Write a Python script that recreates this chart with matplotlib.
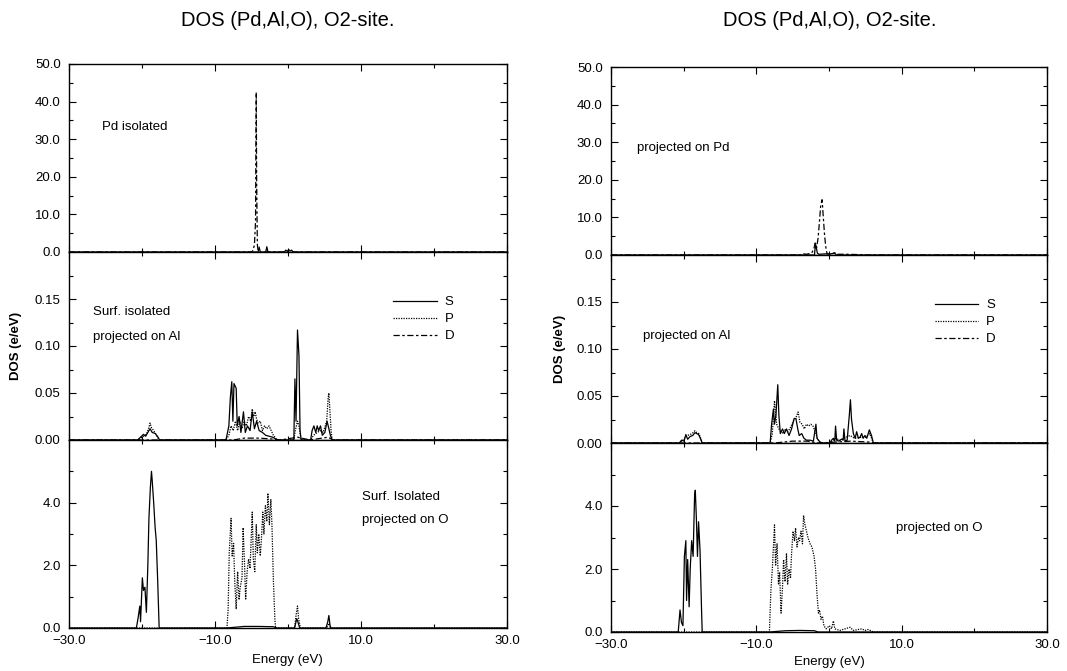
import numpy as np
import matplotlib
matplotlib.use("Agg")
import matplotlib.pyplot as plt
from matplotlib.ticker import FixedLocator, FuncFormatter


plt.rcParams["font.family"] = ["Liberation Sans", "DejaVu Sans"]


# ---------------- left figure: isolated systems ----------------

# Pd isolated (top)
pd_iso_e_d = [-30, -4.9, -4.6, -4.45, -4.35, -4.3, -4.2, -4.1, -3.9, 30]
pd_iso_d = [0, 0, 1.8, 8.0, 42.5, 20.0, 2.0, 0.3, 0, 0]
pd_iso_e_s = [-30, -4.1, -3.95, -3.8, -3.05, -2.9, -2.75, -0.5, -0.3, -0.1, 0.1, 0.3, 0.5, 0.7, 30]
pd_iso_s = [0, 0, 1.3, 0, 0, 1.4, 0, 0, 0.5, 0.2, 0.6, 0.3, 0.5, 0, 0]

# Surf. isolated projected on Al (middle)
al_iso_e_s = [-30, -20.6, -20.2, -19.8, -19.5, -19.2, -18.9, -18.6, -18.2, -17.8, -17.6,
              -8.5, -8.1, -7.9, -7.7, -7.55, -7.4, -7.1, -6.95, -6.7, -6.45, -6.1, -5.85,
              -5.55, -5.2, -4.9, -4.6, -4.3, -3.95, -3.5, -3.05, -2.6, -2.1, -1.45,
              0.8, 0.95, 1.1, 1.3, 1.5, 1.65, 1.8,
              3.1, 3.3, 3.55, 3.8, 4.0, 4.2, 4.45, 4.7, 5.05, 5.35, 5.6, 5.8, 6.05, 30]
al_iso_s = [0, 0, 0.003, 0.006, 0.004, 0.008, 0.012, 0.008, 0.007, 0.003, 0,
            0, 0.015, 0.045, 0.062, 0.02, 0.06, 0.055, 0.015, 0.025, 0.008, 0.03, 0.008,
            0.015, 0.01, 0.03, 0.012, 0.02, 0.01, 0.008, 0.005, 0.004, 0.003, 0,
            0, 0.065, 0.02, 0.117, 0.09, 0.01, 0,
            0, 0.01, 0.015, 0.008, 0.015, 0.01, 0.015, 0.005, 0.008, 0.02, 0.012, 0.005, 0, 0]
al_iso_e_p = [-30, -20.6, -20.2, -19.8, -19.4, -19.1, -18.9, -18.7, -18.4, -18.1, -17.8, -17.6,
              -8.5, -8.1, -7.8, -7.5, -7.2, -6.9, -6.6, -6.3, -6.0, -5.7, -5.4, -5.1, -4.9,
              -4.7, -4.5, -4.3, -4.1, -3.8, -3.5, -3.2, -2.9, -2.6, -2.3, -2.0, -1.6, -1.4,
              0.8, 1.0, 1.3, 1.5, 1.8,
              3.1, 3.5, 4.0, 4.4, 4.8, 5.1, 5.3, 5.5, 5.6, 5.75, 5.9, 6.05, 30]
al_iso_p = [0, 0, 0.002, 0.004, 0.006, 0.012, 0.018, 0.013, 0.01, 0.006, 0.002, 0,
            0, 0.005, 0.015, 0.01, 0.02, 0.01, 0.02, 0.012, 0.02, 0.015, 0.025, 0.02, 0.033,
            0.025, 0.03, 0.022, 0.018, 0.02, 0.01, 0.015, 0.012, 0.015, 0.01, 0.005, 0.001, 0,
            0, 0.01, 0.02, 0.015, 0,
            0, 0.005, 0.008, 0.01, 0.008, 0.015, 0.02, 0.045, 0.05, 0.03, 0.01, 0, 0]
al_iso_e_d = [-30, -7.5, -6.0, -4.0, -2.0, -1.0, 1.3, 3.0, 5.5, 6.2, 30]
al_iso_d = [0, 0, 0.002, 0.002, 0.001, 0, 0.003, 0, 0.003, 0, 0]

# Surf. isolated projected on O (bottom)
o_iso_e_s = [-30, -20.77, -20.55, -20.3, -20.2, -19.95, -19.8, -19.6, -19.4, -19.2, -19.05,
             -18.85, -18.7, -18.6, -18.4, -18.2, -18.05, -17.85, -17.65,
             -8.4, -6.0, -4.0, -2.0, -1.6, 0.9, 1.2, 1.35, 1.6, 5.2, 5.45, 5.6, 5.8, 30]
o_iso_s = [0, 0, 0.3, 0.7, 0.2, 1.6, 1.2, 1.3, 0.5, 2.0, 3.5,
           4.5, 5.0, 4.7, 4.0, 3.2, 2.8, 1.5, 0,
           0, 0.05, 0.05, 0.04, 0, 0, 0.3, 0.2, 0, 0, 0.2, 0.4, 0, 0]
o_iso_e_p = [-30, -8.36, -8.2, -8.05, -7.8, -7.65, -7.45, -7.3, -7.1, -6.9, -6.7, -6.55,
             -6.3, -6.15, -5.95, -5.8, -5.6, -5.4, -5.2, -5.05, -4.9, -4.75, -4.55, -4.35,
             -4.2, -4.0, -3.8, -3.65, -3.45, -3.3, -3.1, -2.9, -2.75, -2.55, -2.35, -2.2,
             -2.0, -1.8, -1.7, 0.9, 1.1, 1.3, 1.45, 1.7, 5.3, 5.6, 5.9, 30]
o_iso_p = [0, 0, 0.6, 2.4, 3.5, 2.3, 2.7, 1.5, 0.6, 1.8, 0.9, 1.3,
           1.6, 3.2, 2.0, 0.9, 1.8, 2.2, 1.9, 2.8, 3.7, 2.2, 1.8, 3.3,
           2.4, 3.0, 2.3, 2.8, 3.7, 3.0, 3.9, 3.4, 4.3, 3.3, 4.1, 3.3,
           1.5, 0.3, 0, 0, 0.4, 0.7, 0.3, 0, 0, 0.15, 0, 0]

# ---------------- right figure: O2-site adsorption ----------------

# projected on Pd (top)
pd_ads_e_d = [-30, -4.0, -3.5, -3.1, -2.4, -2.1, -1.9, -1.7, -1.5, -1.35, -1.15, -0.95,
              -0.8, -0.6, -0.4, -0.25, 0.15, 0.8, 1.15, 2.4, 4.3, 5.2, 30]
pd_ads_d = [0, 0, 0.3, 0.2, 0.5, 1.5, 3.2, 2.0, 4.5, 8.0, 13.0, 14.7,
            10.5, 5.0, 1.5, 0.3, 0.2, 0.6, 0.2, 0.2, 0.1, 0, 0]
pd_ads_e_s = [-30, -2.0, -1.85, -1.7, -1.6, -1.4, -0.5, 0.2, 0.8, 1.0, 30]
pd_ads_s = [0, 0, 3.0, 1.5, 0.5, 0.2, 0.3, 0.3, 0.5, 0, 0]

# projected on Al (middle)
al_ads_e_s = [-30, -20.6, -20.3, -19.95, -19.7, -19.45, -19.1, -18.75, -18.45, -18.2, -17.95,
              -17.65, -17.45,
              -8.1, -7.9, -7.65, -7.5, -7.3, -7.05, -6.9, -6.7, -6.4, -6.15, -5.85, -5.5,
              -5.15, -4.8, -4.55, -4.3, -4.1, -3.75, -3.45, -3.1, -2.6, -2.15, -1.8, -1.65,
              -1.25, -0.8,
              0.15, 0.35, 0.6, 0.8, 0.9, 1.05, 1.3, 1.75, 1.95, 2.05, 2.2, 2.5, 2.8, 2.95,
              3.1, 3.35, 3.6, 3.8, 4.05, 4.25, 4.5, 4.7, 4.95, 5.2, 5.55, 5.85, 6.1, 30]
al_ads_s = [0, 0, 0.003, 0.002, 0.009, 0.004, 0.007, 0.008, 0.011, 0.01, 0.009,
            0.004, 0,
            0, 0.02, 0.036, 0.02, 0.03, 0.062, 0.03, 0.01, 0.015, 0.01, 0.015, 0.008,
            0.015, 0.026, 0.026, 0.015, 0.008, 0.01, 0.005, 0.003, 0.003, 0.002, 0.02, 0.005,
            0.001, 0,
            0, 0.003, 0.005, 0.002, 0.018, 0.003, 0.002, 0.004, 0.003, 0.015, 0.002, 0.003, 0.03, 0.046,
            0.025, 0.01, 0.005, 0.012, 0.005, 0.006, 0.01, 0.005, 0.008, 0.005, 0.014, 0.008, 0, 0]
al_ads_e_p = [-30, -20.6, -20.2, -19.8, -19.5, -19.1, -18.7, -18.45, -18.2, -17.9, -17.6, -17.45,
              -8.1, -7.8, -7.5, -7.2, -6.9, -6.6, -6.3, -6.0, -5.7, -5.4, -5.1, -4.8, -4.5,
              -4.25, -4.0, -3.7, -3.4, -3.1, -2.8, -2.5, -2.2, -1.9, -1.6, -1.3, -1.0,
              0.15, 0.9, 1.5, 2.0, 2.9, 3.5, 4.2, 5.0, 5.6, 6.1, 30]
al_ads_p = [0, 0, 0.002, 0.006, 0.008, 0.009, 0.011, 0.013, 0.011, 0.01, 0.004, 0,
            0, 0.01, 0.045, 0.02, 0.015, 0.012, 0.01, 0.015, 0.012, 0.015, 0.02, 0.025, 0.028,
            0.033, 0.022, 0.02, 0.015, 0.02, 0.018, 0.02, 0.018, 0.012, 0.005, 0.001, 0,
            0, 0.005, 0.003, 0.005, 0.008, 0.005, 0.006, 0.006, 0.01, 0, 0]
al_ads_e_d = [-30, -7.5, -5.0, -3.0, -1.5, 1.0, 3.0, 5.5, 6.2, 30]
al_ads_d = [0, 0, 0.002, 0.002, 0, 0.001, 0.002, 0.001, 0, 0]

# projected on O (bottom)
o_ads_e_s = [-30, -20.75, -20.5, -20.3, -20.1, -19.9, -19.7, -19.6, -19.45, -19.25, -19.1,
             -18.9, -18.7, -18.5, -18.4, -18.25, -18.1, -17.95, -17.75, -17.55, -17.45,
             -8.2, -6.0, -4.0, -2.0, -1.5, 30]
o_ads_s = [0, 0, 0.7, 0.3, 0.2, 2.4, 2.9, 1.0, 2.3, 0.8, 2.0,
           2.9, 2.4, 4.3, 4.5, 3.6, 2.4, 3.5, 2.6, 0.8, 0,
           0, 0.04, 0.05, 0.04, 0, 0]
o_ads_e_p = [-30, -8.2, -8.0, -7.8, -7.5, -7.35, -7.15, -6.95, -6.8, -6.6, -6.4, -6.25,
             -6.05, -5.85, -5.7, -5.5, -5.3, -5.15, -4.95, -4.75, -4.6, -4.4, -4.2, -4.05,
             -3.85, -3.65, -3.5, -3.3, -3.1, -2.9, -2.6, -2.35, -2.05, -1.85, -1.65, -1.45,
             -1.3, -1.1, -0.9, -0.7, -0.4, 0.05, 0.35, 0.6, 0.8, 1.5, 2.9, 3.35, 4.5, 4.95,
             5.4, 5.85, 6.1, 30]
o_ads_p = [0, 0, 1.3, 2.0, 3.4, 2.1, 2.8, 1.5, 1.9, 0.6, 1.4, 2.3,
           1.6, 2.5, 1.5, 2.0, 1.7, 2.5, 3.2, 2.9, 3.3, 2.7, 3.0, 2.9,
           3.2, 2.8, 3.7, 3.4, 3.2, 3.0, 2.8, 2.7, 2.4, 2.0, 1.2, 0.6,
           0.7, 0.4, 0.5, 0.2, 0.1, 0.2, 0.1, 0.35, 0.1, 0.05, 0.15, 0.05, 0.1, 0.05,
           0.08, 0.03, 0, 0]

title = "DOS (Pd,Al,O), O2-site."
x_ticks = [-30, -10, 10, 30]
x_minor = [-20, 0, 20]

S_STYLE = dict(color="black", lw=0.9, linestyle="-")
P_STYLE = dict(color="black", lw=0.9, linestyle=(0, (1, 1)))
D_STYLE = dict(color="black", lw=0.9, linestyle=(0, (5, 2, 2, 2)))

W, H = 1067, 671
fig = plt.figure(figsize=(W / 100, H / 100), dpi=100)


def make_axes(x0, x1, y_top, y_bot):
    # pixel box -> figure fraction
    return fig.add_axes([x0 / W, 1 - y_bot / H, (x1 - x0) / W, (y_bot - y_top) / H])


def fmt_func(decimals):
    def f(v, pos):
        s = f"{abs(v):.{decimals}f}"
        return ("\u2212" + s) if v < 0 else s
    return FuncFormatter(f)


def style(ax, ymax, major, minor, decimals, show_x):
    ax.set_xlim(-30, 30)
    ax.set_ylim(0, ymax)
    ax.xaxis.set_major_locator(FixedLocator(x_ticks))
    ax.xaxis.set_minor_locator(FixedLocator(x_minor))
    ax.yaxis.set_major_locator(FixedLocator(major))
    ax.yaxis.set_minor_locator(FixedLocator(minor))
    ax.yaxis.set_major_formatter(fmt_func(decimals))
    ax.xaxis.set_major_formatter(fmt_func(1))
    ax.tick_params(which="both", direction="in", top=True, right=True,
                   labelsize=9.5, width=0.8)
    ax.tick_params(which="major", length=5)
    ax.tick_params(which="minor", length=3)
    ax.tick_params(axis="y", pad=6)
    ax.tick_params(axis="x", pad=5)
    if not show_x:
        ax.tick_params(axis="x", labelbottom=False)
    for sp in ax.spines.values():
        sp.set_linewidth(1.0)


panels = [
    (69, 507, [64, 252, 440, 628]),
    (611, 1047, [67, 255, 443, 632]),
]

# left
x0, x1, ys = panels[0]
ax_t = make_axes(x0, x1, ys[0], ys[1])
ax_m = make_axes(x0, x1, ys[1], ys[2])
ax_b = make_axes(x0, x1, ys[2], ys[3])

ax_t.plot(pd_iso_e_s, pd_iso_s, **S_STYLE)
ax_t.plot(pd_iso_e_d, pd_iso_d, **D_STYLE)
ax_m.plot(al_iso_e_s, al_iso_s, label="S", **S_STYLE)
ax_m.plot(al_iso_e_p, al_iso_p, label="P", **P_STYLE)
ax_m.plot(al_iso_e_d, al_iso_d, label="D", **D_STYLE)
ax_b.plot(o_iso_e_s, o_iso_s, **S_STYLE)
ax_b.plot(o_iso_e_p, o_iso_p, **P_STYLE)

style(ax_t, 50, [0, 10, 20, 30, 40, 50], [5, 15, 25, 35, 45], 1, False)
style(ax_m, 0.2, [0, 0.05, 0.10, 0.15], [0.025, 0.075, 0.125, 0.175], 2, False)
style(ax_b, 6, [0, 2, 4], [1, 3, 5], 1, True)

ax_t.text(0.075, 0.665, "Pd isolated", transform=ax_t.transAxes, fontsize=9.5, va="center")
ax_m.text(0.055, 0.68, "Surf. isolated", transform=ax_m.transAxes, fontsize=9.5, va="center")
ax_m.text(0.055, 0.548, "projected on Al", transform=ax_m.transAxes, fontsize=9.5, va="center")
ax_b.text(0.669, 0.697, "Surf. Isolated", transform=ax_b.transAxes, fontsize=9.5, va="center")
ax_b.text(0.669, 0.574, "projected on O", transform=ax_b.transAxes, fontsize=9.5, va="center")
ax_m.legend(loc="upper left", bbox_to_anchor=(0.725, 0.80), frameon=False, fontsize=9.5,
            handlelength=3.3, handletextpad=0.6, labelspacing=0.35, borderpad=0)

fig.text(288 / W, 1 - 20 / H, title, ha="center", va="center", fontsize=14.5)
fig.text(16 / W, 1 - 346 / H, "DOS (e/eV)", rotation=90, ha="center", va="center",
         fontsize=9.5, fontweight="bold")
fig.text(287 / W, 1 - 660 / H, "Energy (eV)", ha="center", va="center", fontsize=9.5)

# right
x0, x1, ys = panels[1]
ax_t = make_axes(x0, x1, ys[0], ys[1])
ax_m = make_axes(x0, x1, ys[1], ys[2])
ax_b = make_axes(x0, x1, ys[2], ys[3])

ax_t.plot(pd_ads_e_s, pd_ads_s, **S_STYLE)
ax_t.plot(pd_ads_e_d, pd_ads_d, **D_STYLE)
ax_m.plot(al_ads_e_s, al_ads_s, label="S", **S_STYLE)
ax_m.plot(al_ads_e_p, al_ads_p, label="P", **P_STYLE)
ax_m.plot(al_ads_e_d, al_ads_d, label="D", **D_STYLE)
ax_b.plot(o_ads_e_s, o_ads_s, **S_STYLE)
ax_b.plot(o_ads_e_p, o_ads_p, **P_STYLE)

style(ax_t, 50, [0, 10, 20, 30, 40, 50], [5, 15, 25, 35, 45], 1, False)
style(ax_m, 0.2, [0, 0.05, 0.10, 0.15], [0.025, 0.075, 0.125, 0.175], 2, False)
style(ax_b, 6, [0, 2, 4], [1, 3, 5], 1, True)

ax_t.text(0.06, 0.57, "projected on Pd", transform=ax_t.transAxes, fontsize=9.5, va="center")
ax_m.text(0.073, 0.57, "projected on Al", transform=ax_m.transAxes, fontsize=9.5, va="center")
ax_b.text(0.654, 0.55, "projected on O", transform=ax_b.transAxes, fontsize=9.5, va="center")
ax_m.legend(loc="upper left", bbox_to_anchor=(0.727, 0.80), frameon=False, fontsize=9.5,
            handlelength=3.3, handletextpad=0.6, labelspacing=0.35, borderpad=0)

fig.text(830 / W, 1 - 20 / H, title, ha="center", va="center", fontsize=14.5)
fig.text(560 / W, 1 - 349 / H, "DOS (e/eV)", rotation=90, ha="center", va="center",
         fontsize=9.5, fontweight="bold")
fig.text(829 / W, 1 - 662 / H, "Energy (eV)", ha="center", va="center", fontsize=9.5)

fig.savefig("out.png", dpi=100)
